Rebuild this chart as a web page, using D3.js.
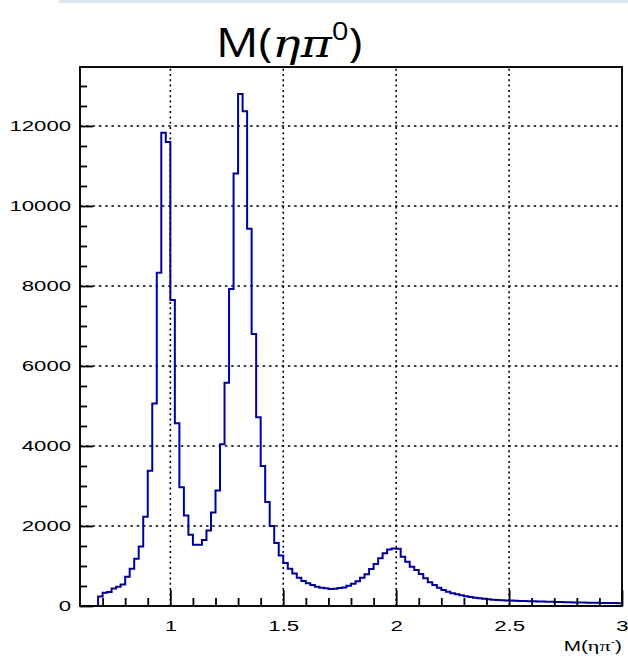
<!DOCTYPE html>
<html>
<head>
<meta charset="utf-8">
<script src="https://cdn.jsdelivr.net/npm/d3@7"></script>
<style>
  body { margin: 0; background: #fff; }
  text { font-family: "Liberation Sans", Arial, sans-serif; }
</style>
</head>
<body>
<div id="chart"></div>
<script>
// histogram of M(eta pi), 120 bins of 0.02 from 0.6 to 3.0
var binLow = 0.6;
var binWidth = 0.02;
var counts = [
  0, 0, 0, 0, 240, 330, 350, 440, 480, 540,
  730, 930, 1180, 1490, 2230, 3380, 5060, 8330, 11830, 11600,
  7650, 4570, 2970, 2260, 1780, 1530, 1530, 1650, 1885, 2340,
  2890, 4045, 5580, 7925, 10810, 12800, 12370, 9430, 6800, 4720,
  3500, 2600, 2000, 1575, 1260, 1075, 930, 810, 708, 625,
  567, 525, 483, 458, 442, 425, 433, 450, 465, 508,
  558, 617, 708, 792, 925, 1050, 1192, 1317, 1410, 1440,
  1430, 1233, 1108, 983, 900, 800, 692, 592, 525, 458,
  400, 358, 317, 292, 267, 242, 225, 208, 192, 183,
  167, 158, 150, 145, 140, 138, 132, 128, 125, 120,
  118, 112, 110, 106, 104, 100, 98, 95, 92, 90,
  88, 85, 84, 80, 80, 78, 76, 74, 72, 70
];
var xMajor = [1, 1.5, 2, 2.5, 3];
var yMajor = [0, 2000, 4000, 6000, 8000, 10000, 12000];

var width = 628;
var height = 658;
var padL = 80, padR = 622, padT = 67, padB = 606;
var sx = 1.48; // root fonts are stretched sideways

var x = d3.scaleLinear().domain([0.6, 3.0]).range([padL, padR]);
var y = d3.scaleLinear().domain([0, 13475]).range([padB, padT]);

var svg = d3.select('#chart')
    .append('svg')
    .attr('width', width)
    .attr('height', height);

svg.append('rect')
    .attr('x', 59).attr('y', 0)
    .attr('width', width - 59).attr('height', 3)
    .attr('fill', '#dce5f3');

// grid
svg.append('g').selectAll('line')
    .data(xMajor.slice(0, 4))
    .join('line')
    .attr('x1', d => x(d)).attr('x2', d => x(d))
    .attr('y1', padB).attr('y2', padT)
    .attr('stroke', '#000')
    .attr('stroke-width', 1.6)
    .attr('stroke-dasharray', '2,3.3');
svg.append('g').selectAll('line')
    .data(yMajor.slice(1))
    .join('line')
    .attr('x1', padL).attr('x2', padR)
    .attr('y1', d => y(d)).attr('y2', d => y(d))
    .attr('stroke', '#000')
    .attr('stroke-width', 1.6)
    .attr('stroke-dasharray', '2.5,3.8');

// histogram
var pts = [[binLow, 0]];
counts.forEach(function(c, i) { pts.push([binLow + i * binWidth, c]); });
pts.push([binLow + counts.length * binWidth, counts[counts.length - 1]]);

var line = d3.line()
    .x(d => x(d[0]))
    .y(d => y(d[1]))
    .curve(d3.curveStepAfter);

svg.append('path')
    .datum(pts)
    .attr('d', line)
    .attr('fill', 'none')
    .attr('stroke', '#00009c')
    .attr('stroke-width', 2);

// axes
var xMinor = d3.range(7, 30).map(d => d / 10).filter(d => Math.abs(d * 2 - Math.round(d * 2)) > 1e-6);
var yMinor = d3.range(500, 13475, 500).filter(d => d % 2000 !== 0);

var gx = svg.append('g').attr('transform', 'translate(0,' + padB + ')');
gx.call(d3.axisBottom(x).tickValues(xMajor).tickSize(-16).tickPadding(14).tickFormat(d3.format('')));
gx.append('g').call(d3.axisBottom(x).tickValues(xMinor).tickSize(-8).tickFormat(''));
gx.selectAll('.domain').remove();
gx.selectAll('line').attr('stroke', '#000').attr('stroke-width', 1.8);
gx.selectAll('text')
    .attr('fill', '#000')
    .style('font-size', '15px')
    .attr('transform', 'scale(' + sx + ',1)');

var gy = svg.append('g').attr('transform', 'translate(' + padL + ',0)');
gy.call(d3.axisLeft(y).tickValues(yMajor).tickSize(-13).tickPadding(6).tickFormat(d3.format('d')));
gy.append('g').call(d3.axisLeft(y).tickValues(yMinor).tickSize(-7).tickFormat(''));
gy.selectAll('.domain').remove();
gy.selectAll('line').attr('stroke', '#000').attr('stroke-width', 1.8);
gy.selectAll('text')
    .attr('fill', '#000')
    .style('font-size', '15px')
    .attr('transform', 'scale(' + sx + ',1)');

// frame
svg.append('rect')
    .attr('x', padL).attr('y', padT)
    .attr('width', padR - padL).attr('height', padB - padT)
    .attr('fill', 'none')
    .attr('stroke', '#000')
    .attr('stroke-width', 1.9);

// x axis title
var xt = svg.append('text')
    .attr('transform', 'translate(' + padR + ',651) scale(' + sx + ',1)')
    .attr('text-anchor', 'end')
    .style('font-size', '14px');
xt.append('tspan').text('M(');
xt.append('tspan').style('font-family', '"Liberation Serif", serif').style('font-size', '15px').text('ηπ');
xt.append('tspan').attr('dy', -6).style('font-size', '9px').text('-');
xt.append('tspan').attr('dy', 6).text(')');

// title
var tt = svg.append('text')
    .attr('transform', 'translate(216,57) scale(1.18,1)')
    .style('font-family', '"Open Sans", sans-serif')
    .style('font-size', '40px');
tt.append('tspan').text('M(');
tt.append('tspan').style('font-family', '"DejaVu Serif", serif').style('font-style', 'italic').text('ηπ');
tt.append('tspan').attr('dy', -17).style('font-size', '25px').text('0');
tt.append('tspan').attr('dy', 17).text(')');
</script>
</body>
</html>
